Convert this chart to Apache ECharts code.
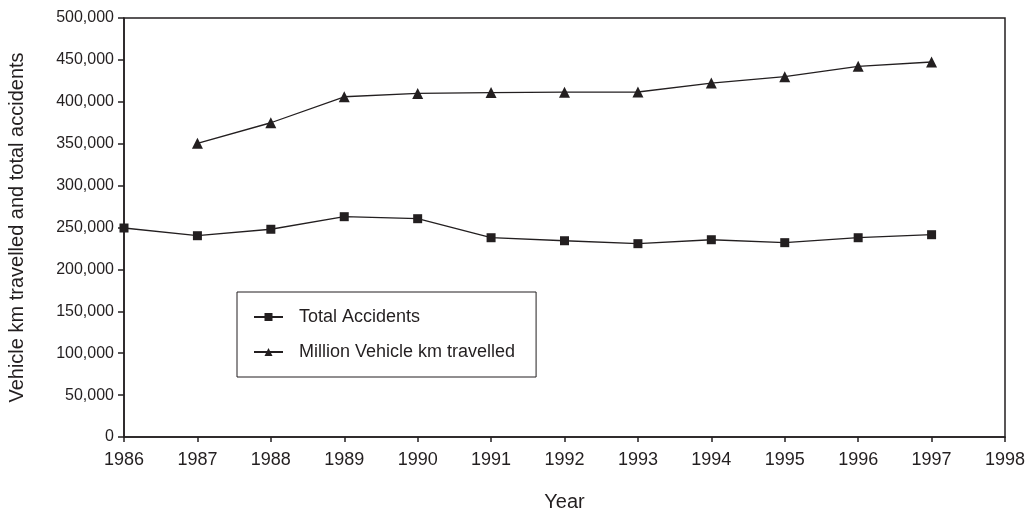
<!DOCTYPE html>
<html>
<head>
<meta charset="utf-8">
<script src="https://cdn.jsdelivr.net/npm/echarts@6/dist/echarts.min.js"></script>
<style>html,body{margin:0;padding:0;background:#fff}#c{width:1029px;height:508px}</style>
</head>
<body>
<div id="c"></div>
<script>
const years = [1986, 1987, 1988, 1989, 1990, 1991, 1992, 1993, 1994, 1995, 1996, 1997];
const totalAccidents = [249400, 240200, 247900, 262900, 260500, 237800, 234200, 230700, 235400, 231900, 237800, 241400];
const vehicleYears = [1987, 1988, 1989, 1990, 1991, 1992, 1993, 1994, 1995, 1996, 1997];
const vehicleKm = [350500, 375000, 406000, 410000, 411000, 411500, 411700, 422400, 430000, 442300, 447500];
const seriesNames = ['Total Accidents', 'Million Vehicle km travelled'];
const xTitle = 'Year';
const yTitle = 'Vehicle km travelled and total accidents';

const font = 'Liberation Sans, Arial, sans-serif';
const ink = '#231f20';
const chart = echarts.init(document.getElementById('c'));
chart.setOption({
  animation: false,
  backgroundColor: '#fff',
  textStyle: { fontFamily: font },
  grid: { left: 124, right: 24, top: 18, bottom: 71, show: true, borderColor: ink, borderWidth: 1.5, containLabel: false, outerBoundsMode: 'none' },
  legend: {
    orient: 'vertical', left: 237, top: 292,
    padding: [16, 21, 16, 16], itemGap: 17, itemWidth: 29, itemHeight: 10,
    borderColor: ink, borderWidth: 1, backgroundColor: '#fff',
    textStyle: { fontFamily: font, fontSize: 18, color: ink, padding: [0, 0, 0, 11] },
    data: seriesNames
  },
  xAxis: {
    type: 'value', min: 1986, max: 1998, interval: 1,
    name: xTitle, nameLocation: 'middle', nameGap: 55,
    nameTextStyle: { fontSize: 20, color: ink, fontFamily: font },
    axisLine: { show: true, lineStyle: { color: ink, width: 1.5 } },
    axisTick: { show: true, length: 5, lineStyle: { color: ink, width: 1.5 } },
    axisLabel: { fontSize: 18, color: ink, margin: 14, formatter: v => String(v) },
    splitLine: { show: false }
  },
  yAxis: {
    type: 'value', min: 0, max: 500000, interval: 50000,
    name: yTitle, nameLocation: 'middle', nameGap: 97,
    nameTextStyle: { fontSize: 20, color: ink, fontFamily: font },
    axisLine: { show: true, lineStyle: { color: ink, width: 1.5 } },
    axisTick: { show: true, length: 6, lineStyle: { color: ink, width: 1.5 } },
    axisLabel: { fontSize: 16, color: ink, margin: 10, formatter: v => v.toLocaleString('en-US') },
    splitLine: { show: false }
  },
  series: [
    {
      name: seriesNames[0], type: 'line',
      data: years.map((y, i) => [y, totalAccidents[i]]),
      symbol: 'rect', symbolSize: 9, showAllSymbol: true,
      lineStyle: { color: ink, width: 1.3 },
      itemStyle: { color: ink, borderWidth: 0 }
    },
    {
      name: seriesNames[1], type: 'line',
      data: vehicleYears.map((y, i) => [y, vehicleKm[i]]),
      symbol: 'triangle', symbolSize: 11, showAllSymbol: true,
      lineStyle: { color: ink, width: 1.3 },
      itemStyle: { color: ink, borderWidth: 0 }
    }
  ]
});
</script>
</body>
</html>
